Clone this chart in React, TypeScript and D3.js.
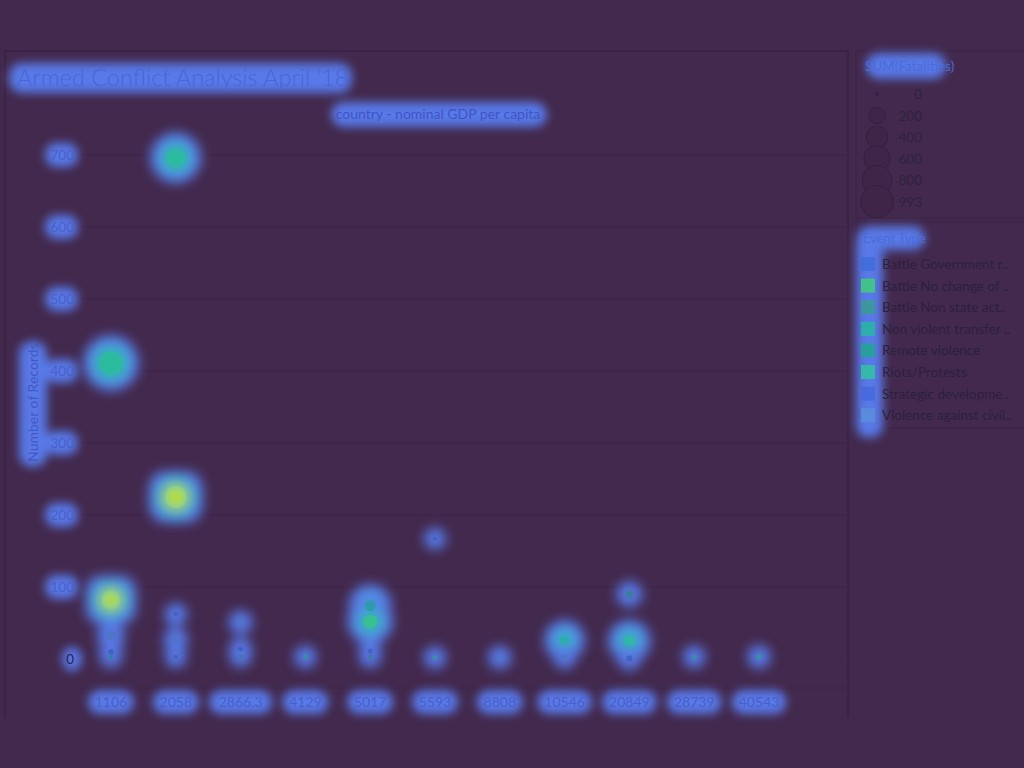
import React from "react";
import * as d3 from "d3";

// ---------- data ----------
const gdpLabels = ["1106", "2058", "2866.3", "4129", "5017", "5593", "8808", "10546", "20849", "28739", "40543"];
const eventTypes = [
  "Battle Government r..",
  "Battle No change of ..",
  "Battle Non state act..",
  "Non violent transfer ..",
  "Remote violence",
  "Riots/Protests",
  "Strategic developme..",
  "Violence against civil..",
];
const yTicks = [0, 100, 200, 300, 400, 500, 600, 700];
const sizeLegendValues = [0, 200, 400, 600, 800, 993];

// each mark: column (gdp), number of records, sum of fatalities, event type index
const pointGdp = [
  "1106", "1106", "1106", "1106", "1106",
  "2058", "2058", "2058", "2058", "2058",
  "2866.3", "2866.3", "2866.3",
  "4129",
  "5017", "5017", "5017", "5017",
  "5593", "5593",
  "8808",
  "10546", "10546",
  "20849", "20849", "20849",
  "28739",
  "40543",
];
const pointRecords = [
  411, 82, 33, 10, 3,
  696, 225, 62, 27, 3,
  51, 14, 4,
  3,
  74, 52, 11, 3,
  167, 2,
  2,
  26, 3,
  90, 25, 1,
  3,
  3,
];
const pointFatalities = [
  420, 230, 45, 6, 2,
  250, 340, 3, 12, 1,
  8, 4, 2,
  3,
  60, 110, 4, 2,
  1, 3,
  6,
  34, 8,
  24, 60, 10,
  3,
  6,
];
const pointType = [
  5, 1, 7, 6, 4,
  5, 1, 6, 7, 0,
  7, 6, 2,
  5,
  4, 1, 6, 2,
  6, 5,
  7,
  3, 7,
  2, 5, 6,
  5,
  5,
];
// heat-overlay intensity for each mark (0 none .. 3 hot)
const pointHeat = [
  2, 3, 1, 1, 1,
  2, 3, 1, 1, 1,
  1, 1, 1,
  1,
  2, 2, 1, 1,
  1, 1,
  1,
  2, 1,
  1, 2, 1,
  1,
  1,
];

const typeColors = ["#3f6cd8", "#3fcf7a", "#3a9c90", "#26b7a2", "#1fa68f", "#2fc49c", "#4568dd", "#5a8fdc"];

// ---------- component ----------
export default function App() {
  const W = 1024;
  const H = 768;
  const bg = "#43294d";
  const glow = "#5a80f5";
  const font = "Lato, 'Open Sans', sans-serif";

  const y = d3.scaleLinear().domain([0, 700]).range([659, 155]);
  const x = d3.scalePoint<string>().domain(gdpLabels).range([111, 759]);
  const r = d3.scaleSqrt().domain([0, 993]).range([1.5, 17.8]);

  const heatLayers = (cx: number, cy: number, level: number, rr: number, key: string) => {
    const out: JSX.Element[] = [];
    if (level === 1) {
      out.push(<circle key={key + "b"} cx={cx} cy={cy} r={Math.max(rr + 9, 11)} fill={glow} />);
    } else if (level === 2) {
      out.push(<circle key={key + "b"} cx={cx} cy={cy} r={rr + 16} fill={glow} />);
      out.push(<circle key={key + "c"} cx={cx} cy={cy} r={rr + 8} fill="#45b0f0" />);
      out.push(<circle key={key + "t"} cx={cx} cy={cy} r={rr + 2} fill="#22c7a8" />);
    } else if (level === 3) {
      out.push(<rect key={key + "b"} x={cx - rr - 16} y={cy - rr - 15} width={2 * rr + 32} height={2 * rr + 30} rx={rr + 6} fill={glow} />);
      out.push(<circle key={key + "c"} cx={cx} cy={cy} r={rr + 10} fill="#40b8ec" />);
      out.push(<circle key={key + "t"} cx={cx} cy={cy} r={rr + 5} fill="#2ccf9a" />);
      out.push(<circle key={key + "y"} cx={cx} cy={cy} r={rr + 1} fill="#c6e22f" />);
    }
    return out;
  };

  const textGlows: [number, number, number, number][] = [
    // title
    [9, 63, 343, 30],
    // column header
    [331, 102, 216, 25],
    // axis title
    [19, 341, 28, 126],
    // legend titles
    [866, 53, 80, 26],
    [857, 226, 68, 24],
    // legend swatch band
    [856, 230, 27, 208],
  ];

  return (
    <svg
      width={W}
      height={H}
      style={{ position: "absolute", left: 0, top: 0, display: "block" }}
      fontFamily={font}
    >
      <defs>
        <filter id="blur" x="-50%" y="-50%" width="200%" height="200%">
          <feGaussianBlur stdDeviation="5" />
        </filter>
        <filter id="blurM" x="-50%" y="-50%" width="200%" height="200%">
          <feGaussianBlur stdDeviation="6" />
        </filter>
      </defs>
      <rect x={0} y={0} width={W} height={H} fill={bg} />

      {/* panel borders */}
      <path d="M5,718 V51 H848 V718" fill="none" stroke="#3a2244" strokeWidth={1.5} />
      <rect x={856} y={51} width={175} height={167} fill="none" stroke="#3d2547" strokeWidth={1} />
      <rect x={856} y={222} width={175} height={206} fill="none" stroke="#3d2547" strokeWidth={1} />

      {/* gridlines */}
      {yTicks.map((t) => (
        <line key={"g" + t} x1={80} x2={848} y1={y(t)} y2={y(t)} stroke="#3e2548" strokeWidth={1} strokeDasharray={t === 0 ? "2,3" : undefined} />
      ))}
      <line x1={80} x2={848} y1={688} y2={688} stroke="#3e2548" strokeWidth={1} />

      {/* marks */}
      {pointGdp.map((g, i) => (
        <circle
          key={"m" + i}
          cx={x(g)!}
          cy={y(pointRecords[i])}
          r={r(pointFatalities[i])}
          fill={typeColors[pointType[i]]}
          fillOpacity={0.8}
        />
      ))}

      {/* heat overlay for texts */}
      <g filter="url(#blur)" opacity={0.92}>
        {textGlows.map((g, i) => (
          <rect key={"tg" + i} x={g[0]} y={g[1]} width={g[2]} height={g[3]} rx={13} fill={glow} />
        ))}
        {yTicks.map((t) => (
          <rect key={"yg" + t} x={t === 0 ? 62 : 45} y={y(t) - 12} width={t === 0 ? 20 : 33} height={24} rx={11} fill={glow} />
        ))}
        {/* bridges from axis title to 400 / 300 labels */}
        <rect x={30} y={y(400) - 9} width={30} height={18} rx={9} fill={glow} />
        <rect x={30} y={y(300) - 9} width={30} height={18} rx={9} fill={glow} />
        {gdpLabels.map((g) => {
          const w = g.length * 8.5 + 12;
          return <rect key={"xg" + g} x={x(g)! - w / 2} y={690} width={w} height={24} rx={12} fill={glow} />;
        })}
      </g>

      {/* heat overlay for marks */}
      <g filter="url(#blurM)" opacity={0.9}>
        {pointGdp.map((g, i) =>
          heatLayers(x(g)!, y(pointRecords[i]), pointHeat[i], r(pointFatalities[i]), "h" + i)
        )}
      </g>

      {/* marks visible through the overlay */}
      {pointGdp.map((g, i) =>
        pointHeat[i] === 3 ? null : (
          <circle
            key={"mo" + i}
            cx={x(g)!}
            cy={y(pointRecords[i])}
            r={r(pointFatalities[i])}
            fill={d3.color(typeColors[pointType[i]])!.darker(pointHeat[i] === 1 ? 0.7 : 0.2).formatHex()}
            fillOpacity={0.6}
          />
        )
      )}

      {/* title */}
      <text x={17} y={86} fontSize={23.5} fill="#4766d8" fontWeight={300}>
        Armed Conflict Analysis April '18
      </text>
      <text x={438} y={119} fontSize={14} fill="#3f55c6" textAnchor="middle">
        country - nominal GDP per capita
      </text>

      {/* y axis */}
      {yTicks.map((t) => (
        <text key={"yt" + t} x={74} y={y(t) + 5} fontSize={13.5} fill={t === 0 ? "#2e2146" : "#4a5fc9"} textAnchor="end">
          {t}
        </text>
      ))}
      <text
        transform={`translate(38, ${y(356)}) rotate(-90)`}
        fontSize={14}
        fill="#4558c4"
        textAnchor="middle"
      >
        Number of Records
      </text>

      {/* x axis labels */}
      {gdpLabels.map((g) => (
        <text key={"xt" + g} x={x(g)!} y={707} fontSize={14} fill="#4a5fc9" textAnchor="middle">
          {g}
        </text>
      ))}

      {/* size legend */}
      <text x={865} y={71} fontSize={13.5} fill="#4c6ad8">
        SUM(Fatalities)
      </text>
      {sizeLegendValues.map((v, i) => {
        const cy = 94 + i * 21.5;
        return (
          <g key={"sl" + v}>
            <circle cx={877} cy={cy} r={v === 0 ? 1.5 : r(v) * 0.92} fill="#3f2649" stroke="#33203d" strokeWidth={1} />
            <text x={922} y={cy + 5} fontSize={13.5} fill="#2e2340" textAnchor="end">
              {v}
            </text>
          </g>
        );
      })}

      {/* color legend */}
      <text x={863} y={243} fontSize={13} fill="#4c6ad8">
        Event Type
      </text>
      {eventTypes.map((t, i) => {
        const cy = 264 + i * 21.6;
        return (
          <g key={"cl" + i}>
            <rect x={861} y={cy - 7} width={14} height={14} fill={typeColors[i]} fillOpacity={0.85} />
            <text x={882} y={cy + 5} fontSize={13.5} fill="#2c2040">
              {t}
            </text>
          </g>
        );
      })}
    </svg>
  );
}
